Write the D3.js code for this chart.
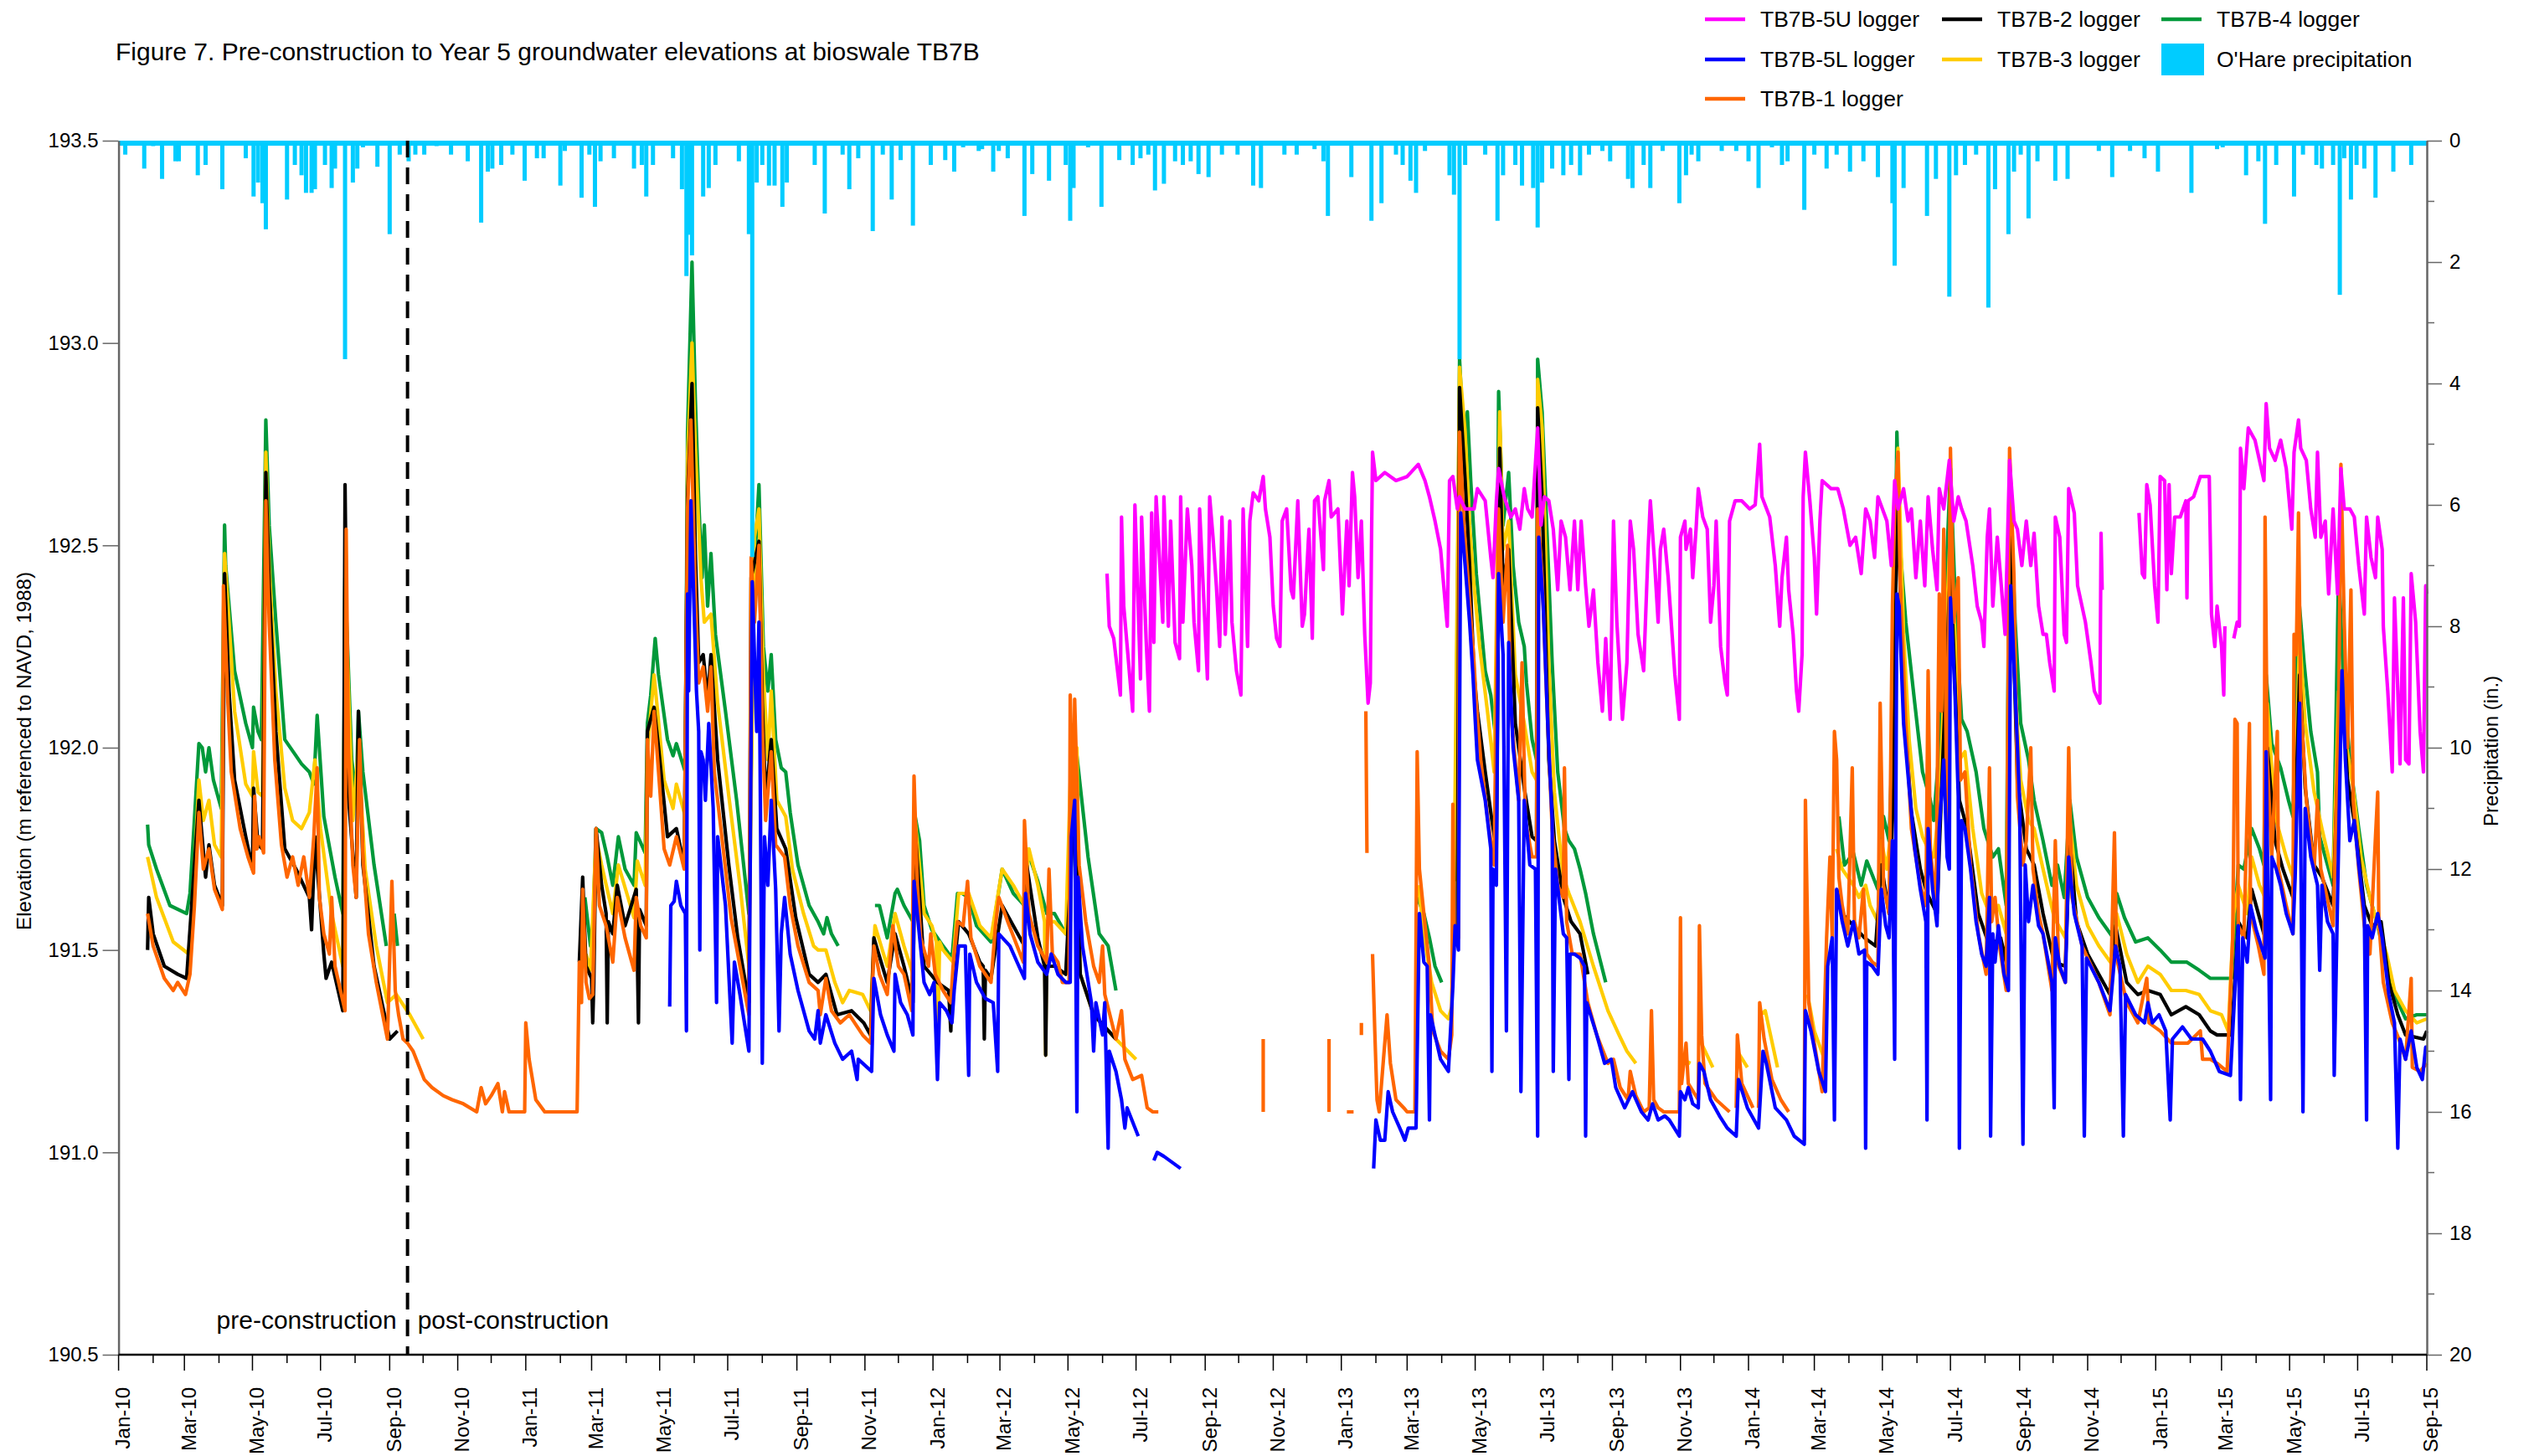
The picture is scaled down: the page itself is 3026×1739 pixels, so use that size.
<!DOCTYPE html>
<html><head><meta charset="utf-8">
<script src="https://cdn.jsdelivr.net/npm/d3@7"></script>
<style>
body{margin:0;background:#fff;}
text{font-family:"Liberation Sans",Arial,Helvetica,sans-serif;fill:#000;}
</style>
</head><body>
<svg id="chart" width="3026" height="1739"></svg>
<script>
// ---------------- DATA ----------------
// Each point: [days after START_DATE, value]; value null marks a gap in the record.
const START_DATE = "2010-01-01";
const END_DATE = "2015-09-01";
const CONSTRUCTION_DATE = "2010-09-17";
const elevTicks = [190.5, 191.0, 191.5, 192.0, 192.5, 193.0, 193.5];
const precipTicks = [0, 2, 4, 6, 8, 10, 12, 14, 16, 18, 20];
const seriesNames = ["TB7B-5U logger", "TB7B-5L logger", "TB7B-1 logger", "TB7B-2 logger", "TB7B-3 logger", "TB7B-4 logger"];
const precipName = "O'Hare precipitation";

const tb7b5U = [[886,192.43],[888,192.30],[892,192.27],[898,192.13],[899,192.57],[901,192.35],[909,192.09],[911,192.60],[916,192.17],[917,192.57],[921,192.27],[924,192.09],[926,192.58],[928,192.26],[930,192.62],[933,192.47],[936,192.31],[937,192.62],[941,192.30],[943,192.56],[947,192.26],[951,192.22],[952,192.62],[954,192.31],[958,192.59],[962,192.45],[964,192.31],[968,192.19],[969,192.59],[976,192.17],[978,192.62],[981,192.52],[984,192.40],[987,192.25],[989,192.57],[992,192.28],[996,192.56],[998,192.31],[1002,192.19],[1006,192.13],[1008,192.59],[1012,192.25],[1014,192.56],[1017,192.63],[1022,192.61],[1026,192.67],[1028,192.59],[1032,192.52],[1035,192.35],[1038,192.27],[1041,192.25],[1043,192.56],[1047,192.59],[1051,192.39],[1053,192.37],[1057,192.61],[1061,192.30],[1063,192.33],[1067,192.54],[1070,192.27],[1072,192.61],[1075,192.62],[1080,192.44],[1081,192.61],[1085,192.66],[1087,192.57],[1093,192.59],[1097,192.33],[1101,192.56],[1103,192.40],[1106,192.68],[1108,192.62],[1111,192.42],[1114,192.56],[1117,192.28],[1120,192.11],[1122,192.16],[1123,192.49],[1124,192.73],[1127,192.66],[1135,192.68],[1145,192.66],[1155,192.67],[1165,192.70],[1171,192.66],[1175,192.62],[1180,192.56],[1185,192.49],[1190,192.33],[1191,192.30],[1193,192.66],[1196,192.67],[1200,192.59],[1202,192.62],[1207,192.59],[1215,192.59],[1218,192.64],[1225,192.61],[1230,192.47],[1232,192.42],[1235,192.61],[1237,192.69],[1242,192.62],[1248,192.57],[1252,192.59],[1256,192.54],[1260,192.64],[1263,192.59],[1267,192.57],[1272,192.79],[1275,192.55],[1278,192.62],[1282,192.61],[1286,192.54],[1290,192.39],[1293,192.56],[1297,192.52],[1301,192.39],[1305,192.56],[1308,192.39],[1311,192.56],[1315,192.40],[1318,192.30],[1322,192.39],[1326,192.21],[1330,192.09],[1333,192.27],[1337,192.07],[1340,192.56],[1343,192.31],[1348,192.07],[1352,192.21],[1355,192.56],[1358,192.49],[1362,192.28],[1367,192.19],[1371,192.49],[1373,192.61],[1377,192.45],[1380,192.31],[1382,192.49],[1385,192.54],[1389,192.42],[1392,192.30],[1395,192.18],[1399,192.07],[1400,192.52],[1404,192.56],[1405,192.49],[1409,192.54],[1411,192.42],[1414,192.54],[1416,192.64],[1420,192.57],[1424,192.54],[1427,192.31],[1430,192.40],[1432,192.56],[1436,192.25],[1440,192.16],[1442,192.13],[1444,192.56],[1449,192.61],[1455,192.61],[1462,192.59],[1467,192.60],[1471,192.75],[1473,192.62],[1480,192.57],[1485,192.45],[1489,192.30],[1491,192.42],[1495,192.52],[1497,192.39],[1501,192.28],[1504,192.14],[1506,192.09],[1509,192.23],[1510,192.62],[1512,192.73],[1516,192.61],[1520,192.47],[1522,192.33],[1525,192.56],[1527,192.66],[1535,192.64],[1541,192.64],[1546,192.59],[1552,192.50],[1557,192.52],[1562,192.43],[1566,192.59],[1570,192.56],[1574,192.47],[1577,192.62],[1581,192.59],[1585,192.56],[1589,192.45],[1592,192.66],[1595,192.59],[1600,192.64],[1604,192.56],[1607,192.59],[1611,192.42],[1615,192.56],[1619,192.40],[1622,192.62],[1626,192.49],[1630,192.39],[1632,192.64],[1636,192.59],[1641,192.71],[1645,192.56],[1649,192.62],[1652,192.59],[1656,192.56],[1662,192.45],[1666,192.35],[1670,192.31],[1672,192.25],[1675,192.52],[1677,192.59],[1680,192.35],[1684,192.52],[1687,192.42],[1691,192.28],[1695,192.71],[1699,192.56],[1702,192.54],[1706,192.45],[1710,192.56],[1714,192.45],[1717,192.53],[1721,192.35],[1725,192.28],[1728,192.28],[1731,192.21],[1735,192.14],[1736,192.57],[1740,192.52],[1744,192.28],[1746,192.26],[1748,192.64],[1753,192.58],[1756,192.40],[1763,192.31],[1768,192.21],[1771,192.14],[1776,192.11],[1777,192.53],[1778,192.39],[1779,null],[1811,192.58],[1814,192.43],[1816,192.42],[1818,192.65],[1821,192.60],[1825,192.40],[1828,192.31],[1830,192.67],[1834,192.66],[1836,192.39],[1838,192.65],[1840,192.43],[1843,192.57],[1848,192.57],[1853,192.61],[1854,192.37],[1855,192.61],[1860,192.62],[1866,192.67],[1874,192.67],[1876,192.33],[1879,192.25],[1881,192.35],[1885,192.25],[1887,192.13],[1888,192.30],[1889,null],[1896,192.27],[1899,192.31],[1901,192.30],[1902,192.74],[1905,192.64],[1909,192.79],[1915,192.76],[1919,192.71],[1923,192.66],[1925,192.85],[1928,192.74],[1933,192.71],[1938,192.76],[1943,192.69],[1948,192.54],[1950,192.73],[1954,192.81],[1956,192.74],[1961,192.71],[1965,192.59],[1969,192.52],[1971,192.73],[1974,192.52],[1978,192.56],[1981,192.38],[1985,192.59],[1989,192.38],[1992,192.69],[1995,192.59],[2000,192.59],[2004,192.57],[2008,192.45],[2013,192.33],[2015,192.57],[2019,192.47],[2023,192.42],[2025,192.57],[2029,192.49],[2030,192.30],[2034,192.14],[2038,191.94],[2040,192.37],[2043,192.14],[2045,191.96],[2048,192.37],[2050,191.97],[2053,191.96],[2055,192.43],[2059,192.31],[2063,192.04],[2066,191.94],[2068,192.40],[2069,192.38]];

const tb7b5L = [[494,191.36],[495,191.61],[498,191.62],[500,191.67],[504,191.61],[508,191.59],[509,191.30],[510,192.38],[511,192.14],[513,192.61],[515,192.42],[518,192.14],[520,192.04],[521,191.50],[522,191.99],[524,191.97],[526,191.87],[529,192.06],[533,191.85],[536,191.37],[537,191.78],[544,191.61],[550,191.27],[552,191.47],[557,191.39],[565,191.25],[568,192.41],[572,192.04],[574,192.31],[575,191.97],[577,191.22],[579,191.78],[582,191.66],[585,191.87],[589,191.65],[592,191.30],[594,191.54],[597,191.63],[602,191.49],[609,191.40],[619,191.30],[624,191.28],[627,191.35],[629,191.27],[634,191.34],[642,191.27],[649,191.23],[657,191.25],[662,191.18],[663,191.23],[675,191.20],[677,191.43],[683,191.34],[689,191.29],[695,191.25],[696,191.44],[701,191.37],[707,191.34],[712,191.29],[713,191.67],[717,191.56],[722,191.42],[727,191.39],[731,191.42],[734,191.18],[736,191.37],[742,191.35],[747,191.32],[749,191.40],[753,191.51],[759,191.51],[762,191.19],[763,191.49],[769,191.42],[777,191.38],[784,191.37],[788,191.20],[789,191.54],[799,191.51],[807,191.46],[812,191.43],[813,191.64],[817,191.54],[824,191.47],[832,191.44],[836,191.49],[842,191.44],[849,191.42],[853,191.42],[854,191.78],[857,191.87],[859,191.10],[860,191.68],[864,191.51],[872,191.37],[874,191.25],[876,191.37],[882,191.29],[884,191.37],[887,191.01],[888,191.25],[894,191.20],[899,191.13],[902,191.06],[904,191.11],[914,191.04],[915,null],[928,190.98],[931,191.00],[937,190.99],[952,190.96],[953,null],[1125,190.96],[1127,191.08],[1131,191.03],[1135,191.03],[1138,191.15],[1142,191.10],[1150,191.05],[1153,191.03],[1156,191.06],[1163,191.06],[1166,191.59],[1170,191.47],[1173,191.46],[1175,191.08],[1176,191.34],[1180,191.29],[1185,191.23],[1192,191.20],[1196,191.41],[1198,191.56],[1201,191.50],[1203,192.58],[1207,192.45],[1211,192.31],[1214,192.18],[1216,192.07],[1218,191.97],[1225,191.87],[1230,191.75],[1231,191.20],[1232,191.70],[1235,191.66],[1237,192.43],[1241,192.23],[1244,191.30],[1246,192.26],[1250,192.00],[1255,191.87],[1257,191.15],[1260,191.87],[1265,191.71],[1270,191.70],[1272,191.04],[1273,192.52],[1277,192.35],[1281,192.06],[1285,191.82],[1286,191.20],[1288,191.70],[1295,191.54],[1298,191.53],[1300,191.18],[1301,191.49],[1305,191.49],[1310,191.48],[1314,191.46],[1315,191.04],[1316,191.37],[1325,191.29],[1332,191.22],[1338,191.23],[1342,191.16],[1350,191.11],[1357,191.15],[1365,191.10],[1371,191.08],[1375,191.12],[1380,191.08],[1386,191.09],[1390,191.08],[1399,191.04],[1400,191.15],[1404,191.13],[1407,191.16],[1411,191.12],[1416,191.11],[1417,191.22],[1421,191.20],[1427,191.13],[1435,191.09],[1442,191.06],[1450,191.04],[1452,191.18],[1460,191.11],[1470,191.06],[1474,191.25],[1477,191.22],[1485,191.11],[1495,191.08],[1502,191.04],[1511,191.02],[1512,191.35],[1517,191.30],[1524,191.20],[1530,191.15],[1532,191.46],[1536,191.53],[1538,191.08],[1540,191.65],[1545,191.57],[1550,191.51],[1555,191.57],[1560,191.49],[1565,191.50],[1566,191.01],[1567,191.47],[1572,191.46],[1577,191.44],[1580,191.65],[1584,191.56],[1587,191.53],[1590,191.77],[1592,191.23],[1594,192.38],[1596,192.35],[1600,192.06],[1605,191.90],[1610,191.75],[1615,191.65],[1620,191.57],[1621,191.08],[1622,191.80],[1626,191.65],[1630,191.56],[1632,191.80],[1636,191.97],[1639,191.73],[1641,191.70],[1642,192.37],[1646,192.14],[1649,191.88],[1650,191.01],[1652,191.82],[1655,191.80],[1660,191.70],[1665,191.57],[1670,191.49],[1674,191.46],[1677,191.63],[1678,191.04],[1680,191.54],[1682,191.47],[1685,191.56],[1690,191.44],[1694,191.40],[1696,192.40],[1700,192.14],[1704,191.87],[1707,191.02],[1709,191.71],[1712,191.57],[1716,191.66],[1721,191.56],[1725,191.54],[1733,191.42],[1735,191.11],[1736,191.53],[1740,191.46],[1745,191.42],[1748,191.73],[1753,191.59],[1760,191.51],[1762,191.04],[1764,191.48],[1775,191.42],[1785,191.35],[1790,191.51],[1794,191.46],[1797,191.04],[1799,191.39],[1808,191.34],[1816,191.32],[1819,191.37],[1823,191.32],[1829,191.34],[1835,191.30],[1839,191.08],[1841,191.28],[1850,191.31],[1858,191.28],[1868,191.28],[1875,191.25],[1883,191.20],[1893,191.19],[1896,191.35],[1900,191.56],[1902,191.13],[1904,191.53],[1908,191.47],[1911,191.61],[1916,191.55],[1924,191.48],[1925,191.99],[1929,191.13],[1930,191.73],[1934,191.70],[1938,191.66],[1943,191.59],[1949,191.54],[1951,191.68],[1955,192.11],[1958,191.10],[1960,191.85],[1965,191.73],[1971,191.66],[1973,191.45],[1975,191.66],[1980,191.57],[1985,191.54],[1986,191.19],[1989,191.63],[1993,192.19],[1996,191.97],[2000,191.77],[2004,191.82],[2008,191.71],[2013,191.59],[2015,191.08],[2016,191.56],[2020,191.53],[2025,191.59],[2029,191.53],[2035,191.39],[2040,191.32],[2043,191.01],[2045,191.28],[2050,191.23],[2055,191.30],[2060,191.21],[2065,191.18],[2068,191.26],[2069,191.26]];

const tb7b1 = [[26,191.59],[31,191.51],[41,191.43],[49,191.40],[53,191.42],[60,191.39],[64,191.44],[68,191.61],[72,191.84],[76,191.70],[81,191.75],[86,191.65],[93,191.60],[94,192.40],[98,192.11],[101,191.94],[109,191.80],[116,191.73],[121,191.69],[122,191.88],[124,191.75],[126,191.78],[130,191.74],[132,192.61],[135,192.31],[140,191.97],[146,191.76],[151,191.68],[156,191.73],[161,191.66],[166,191.73],[171,191.63],[175,191.78],[178,191.95],[180,191.63],[184,191.54],[189,191.49],[191,191.63],[194,191.46],[203,191.35],[204,192.54],[206,192.00],[210,191.71],[213,191.63],[216,192.02],[219,191.73],[224,191.54],[231,191.42],[241,191.28],[245,191.67],[248,191.40],[251,191.34],[255,191.28],[259,191.27],[264,191.25],[274,191.18],[281,191.16],[291,191.14],[299,191.13],[309,191.12],[321,191.10],[325,191.16],[329,191.12],[334,191.14],[340,191.17],[344,191.10],[346,191.15],[350,191.10],[364,191.10],[365,191.32],[368,191.23],[374,191.13],[382,191.10],[411,191.10],[413,191.47],[415,191.37],[416,191.65],[419,191.42],[422,191.38],[425,191.39],[428,191.80],[431,191.61],[437,191.56],[443,191.47],[447,191.63],[454,191.53],[462,191.45],[464,191.63],[468,191.56],[473,191.53],[474,192.02],[477,191.88],[480,192.09],[484,191.94],[489,191.75],[494,191.71],[500,191.78],[507,191.70],[510,192.59],[513,192.81],[517,192.38],[520,192.16],[524,192.20],[528,192.09],[531,192.20],[534,191.94],[542,191.75],[549,191.58],[557,191.46],[565,191.34],[567,192.47],[570,192.31],[574,192.50],[577,192.05],[580,191.82],[585,191.99],[589,191.76],[597,191.73],[602,191.61],[609,191.51],[619,191.42],[627,191.40],[629,191.34],[634,191.43],[639,191.35],[647,191.32],[655,191.34],[667,191.29],[674,191.27],[677,191.51],[682,191.44],[689,191.39],[694,191.56],[699,191.46],[704,191.44],[711,191.35],[713,191.93],[716,191.66],[719,191.53],[726,191.46],[728,191.54],[732,191.44],[739,191.40],[746,191.37],[748,191.46],[752,191.57],[757,191.56],[761,191.67],[764,191.53],[772,191.46],[782,191.42],[786,191.56],[789,191.63],[797,191.57],[804,191.52],[811,191.47],[812,191.82],[816,191.59],[824,191.51],[832,191.47],[834,191.70],[837,191.49],[842,191.47],[846,191.42],[852,191.42],[853,192.13],[856,191.80],[857,192.12],[861,191.71],[867,191.57],[874,191.46],[879,191.42],[882,191.51],[884,191.39],[894,191.28],[899,191.35],[902,191.23],[909,191.18],[917,191.19],[922,191.11],[927,191.10],[932,191.10],[933,null],[1026,191.28],[1026,191.10],[1027,null],[1085,191.28],[1085,191.10],[1086,null],[1101,191.10],[1107,191.10],[1108,null],[1114,191.32],[1114,191.29],[1115,null],[1118,192.09],[1119,191.74],[1120,null],[1124,191.49],[1126,191.30],[1128,191.13],[1130,191.10],[1137,191.34],[1140,191.22],[1145,191.13],[1152,191.11],[1155,191.10],[1162,191.10],[1164,191.99],[1166,191.70],[1170,191.59],[1175,191.46],[1178,191.30],[1185,191.25],[1192,191.23],[1195,191.29],[1196,191.86],[1197,191.56],[1201,191.53],[1202,192.78],[1206,192.55],[1210,192.40],[1215,192.21],[1217,192.11],[1221,191.97],[1227,191.83],[1233,191.71],[1237,192.59],[1241,192.31],[1245,192.50],[1248,192.09],[1255,191.87],[1258,192.21],[1261,191.82],[1267,191.73],[1271,191.73],[1272,192.59],[1276,192.42],[1281,192.06],[1285,191.80],[1290,191.66],[1295,191.63],[1296,191.95],[1298,191.57],[1303,191.49],[1310,191.49],[1317,191.37],[1325,191.29],[1335,191.22],[1340,191.23],[1346,191.16],[1353,191.13],[1355,191.20],[1360,191.14],[1367,191.10],[1372,191.11],[1374,191.35],[1376,191.13],[1380,191.11],[1385,191.10],[1392,191.10],[1399,191.10],[1400,191.58],[1401,191.17],[1405,191.27],[1407,191.17],[1416,191.13],[1417,191.56],[1419,191.29],[1422,191.17],[1432,191.13],[1444,191.10],[1445,null],[1450,191.11],[1451,191.29],[1455,191.17],[1465,191.11],[1466,null],[1470,191.11],[1471,191.37],[1475,191.28],[1482,191.18],[1490,191.13],[1497,191.10],[1498,null],[1511,191.03],[1512,191.87],[1515,191.37],[1520,191.27],[1527,191.15],[1531,191.53],[1534,191.73],[1536,191.53],[1538,192.04],[1540,191.97],[1542,191.68],[1545,191.61],[1550,191.54],[1554,191.95],[1556,191.57],[1560,191.53],[1564,191.65],[1567,191.49],[1572,191.47],[1577,191.46],[1579,192.11],[1582,191.66],[1587,191.59],[1590,192.35],[1592,192.59],[1595,192.73],[1597,192.40],[1602,192.06],[1607,191.80],[1615,191.66],[1620,191.61],[1622,192.19],[1624,191.75],[1629,191.61],[1632,192.38],[1634,192.09],[1636,192.54],[1639,191.77],[1642,192.74],[1645,192.31],[1649,192.42],[1651,191.92],[1655,191.94],[1660,191.71],[1667,191.54],[1674,191.44],[1677,191.95],[1679,191.57],[1682,191.63],[1686,191.51],[1692,191.40],[1695,192.74],[1699,192.42],[1702,191.88],[1707,191.71],[1710,191.77],[1714,192.00],[1716,191.70],[1721,191.59],[1725,191.54],[1733,191.40],[1736,191.77],[1739,191.46],[1745,191.42],[1748,192.00],[1751,191.63],[1760,191.51],[1775,191.42],[1785,191.34],[1789,191.79],[1791,191.48],[1800,191.37],[1810,191.32],[1818,191.43],[1820,191.32],[1830,191.30],[1840,191.27],[1855,191.27],[1866,191.30],[1868,191.23],[1875,191.23],[1881,191.22],[1890,191.20],[1895,191.53],[1897,192.07],[1899,192.06],[1900,191.56],[1905,191.53],[1910,192.06],[1911,191.59],[1918,191.51],[1923,191.44],[1924,192.57],[1926,191.97],[1930,191.73],[1935,192.04],[1936,191.70],[1943,191.61],[1949,191.54],[1950,192.28],[1952,192.23],[1954,192.58],[1956,192.11],[1961,191.87],[1968,191.70],[1971,191.87],[1974,191.70],[1978,191.65],[1985,191.56],[1990,192.07],[1992,192.70],[1995,192.31],[1998,192.00],[2001,192.39],[2003,191.87],[2008,191.70],[2013,191.56],[2018,191.49],[2023,191.78],[2025,191.89],[2026,191.57],[2030,191.42],[2038,191.32],[2044,191.28],[2050,191.23],[2055,191.43],[2056,191.21],[2063,191.20],[2069,191.22]];

const tb7b2 = [[26,191.50],[27,191.63],[31,191.54],[41,191.46],[53,191.44],[61,191.43],[66,191.63],[72,191.87],[78,191.68],[81,191.76],[86,191.66],[93,191.61],[95,192.43],[99,192.14],[104,191.92],[114,191.78],[120,191.70],[121,191.90],[125,191.76],[129,191.75],[132,192.68],[135,192.40],[141,192.04],[149,191.75],[159,191.70],[171,191.63],[173,191.55],[176,191.78],[184,191.49],[186,191.43],[191,191.47],[201,191.35],[203,192.65],[206,191.88],[213,191.63],[215,192.09],[219,191.71],[229,191.46],[243,191.28],[250,191.30],[251,null],[413,191.47],[416,191.68],[419,191.46],[424,191.43],[425,191.32],[426,191.42],[428,191.80],[433,191.66],[437,191.59],[438,191.32],[439,191.57],[443,191.54],[447,191.66],[454,191.56],[464,191.65],[466,191.32],[467,191.60],[473,191.56],[474,192.04],[480,192.10],[484,192.00],[492,191.78],[500,191.80],[507,191.71],[510,192.62],[514,192.90],[517,192.48],[520,192.21],[524,192.23],[528,192.12],[531,192.23],[537,191.97],[547,191.71],[555,191.53],[565,191.37],[567,192.42],[574,192.51],[577,192.11],[580,191.87],[585,192.02],[590,191.80],[598,191.75],[607,191.58],[619,191.44],[627,191.42],[634,191.44],[644,191.34],[657,191.35],[668,191.32],[674,191.29],[677,191.53],[689,191.42],[696,191.54],[704,191.46],[712,191.37],[714,191.80],[722,191.46],[734,191.42],[744,191.40],[746,191.30],[747,191.40],[753,191.57],[762,191.54],[772,191.47],[775,191.46],[776,191.28],[777,191.45],[782,191.43],[792,191.61],[802,191.56],[812,191.51],[814,191.71],[824,191.53],[830,191.46],[831,191.24],[832,191.46],[839,191.46],[849,191.44],[857,191.89],[862,191.44],[874,191.34],[894,191.28],[895,null],[1200,191.53],[1202,192.89],[1207,192.66],[1211,192.45],[1215,192.18],[1218,192.09],[1225,191.94],[1231,191.82],[1235,191.75],[1238,192.74],[1241,192.40],[1246,192.49],[1252,192.06],[1260,191.90],[1267,191.78],[1271,191.77],[1272,192.84],[1276,192.62],[1282,191.97],[1287,191.77],[1295,191.63],[1302,191.57],[1310,191.54],[1317,191.44],[1318,null],[1540,191.65],[1545,191.59],[1555,191.56],[1565,191.53],[1575,191.51],[1580,191.71],[1587,191.59],[1591,191.90],[1594,192.66],[1600,192.11],[1607,191.84],[1615,191.70],[1621,191.64],[1630,191.59],[1632,191.75],[1642,192.45],[1650,191.87],[1657,191.80],[1667,191.59],[1677,191.51],[1687,191.53],[1692,191.47],[1696,192.52],[1702,191.92],[1710,191.75],[1717,191.71],[1725,191.59],[1735,191.47],[1745,191.46],[1749,191.77],[1755,191.57],[1765,191.49],[1775,191.44],[1785,191.39],[1790,191.56],[1800,191.42],[1810,191.39],[1819,191.40],[1830,191.39],[1840,191.34],[1853,191.36],[1865,191.34],[1875,191.30],[1881,191.29],[1894,191.29],[1900,191.57],[1908,191.53],[1912,191.65],[1923,191.54],[1926,192.00],[1933,191.77],[1940,191.70],[1949,191.63],[1955,192.18],[1960,191.90],[1968,191.71],[1975,191.68],[1985,191.61],[1992,192.18],[1998,191.92],[2005,191.80],[2013,191.61],[2020,191.56],[2028,191.57],[2035,191.42],[2043,191.34],[2050,191.29],[2066,191.28],[2069,191.30]];

const tb7b3 = [[26,191.73],[34,191.63],[49,191.52],[63,191.49],[68,191.70],[72,191.92],[76,191.82],[81,191.87],[86,191.76],[92,191.73],[95,192.48],[99,192.31],[104,192.09],[114,191.91],[120,191.88],[121,191.99],[125,191.89],[129,191.88],[132,192.73],[135,192.45],[141,192.14],[149,191.90],[156,191.82],[164,191.80],[171,191.84],[176,191.97],[181,191.80],[191,191.59],[201,191.46],[203,192.40],[210,191.82],[215,192.00],[221,191.70],[231,191.51],[241,191.37],[249,191.39],[261,191.34],[273,191.28],[274,null],[419,191.49],[423,191.45],[428,191.78],[433,191.71],[443,191.59],[448,191.71],[462,191.58],[465,191.72],[472,191.66],[474,191.99],[480,192.18],[489,191.92],[497,191.85],[500,191.91],[508,191.83],[510,192.71],[514,193.00],[517,192.74],[522,192.42],[525,192.31],[531,192.33],[537,192.11],[547,191.88],[557,191.66],[565,191.46],[570,192.52],[574,192.59],[578,192.18],[582,191.97],[585,192.14],[590,191.87],[598,191.83],[604,191.70],[614,191.59],[623,191.51],[627,191.50],[634,191.50],[642,191.42],[649,191.37],[655,191.40],[667,191.39],[674,191.35],[678,191.56],[689,191.46],[696,191.59],[704,191.51],[712,191.44],[714,191.82],[722,191.59],[729,191.56],[733,191.52],[734,191.24],[736,191.52],[739,191.50],[748,191.47],[753,191.64],[762,191.64],[772,191.56],[782,191.53],[792,191.70],[802,191.66],[812,191.61],[816,191.75],[824,191.66],[830,191.57],[831,191.24],[832,191.57],[839,191.57],[849,191.54],[854,192.00],[859,192.00],[862,191.44],[874,191.34],[894,191.28],[912,191.23],[913,null],[1165,191.66],[1171,191.52],[1177,191.42],[1185,191.35],[1192,191.33],[1195,191.36],[1197,191.63],[1202,192.94],[1207,192.78],[1211,192.55],[1215,192.40],[1220,192.25],[1227,192.09],[1233,191.94],[1238,192.83],[1241,192.49],[1246,192.56],[1252,192.18],[1260,192.06],[1267,191.94],[1271,191.92],[1272,192.91],[1276,192.79],[1282,192.21],[1287,191.89],[1295,191.68],[1300,191.64],[1310,191.57],[1322,191.46],[1335,191.35],[1345,191.29],[1352,191.25],[1360,191.22],[1361,null],[1401,191.23],[1409,191.22],[1410,null],[1417,191.28],[1429,191.21],[1430,null],[1451,191.25],[1460,191.21],[1461,null],[1472,191.34],[1476,191.35],[1487,191.21],[1488,null],[1514,191.39],[1520,191.30],[1529,191.23],[1530,null],[1540,191.75],[1545,191.70],[1555,191.66],[1560,191.63],[1566,191.66],[1570,191.61],[1577,191.57],[1580,191.77],[1585,191.70],[1590,191.83],[1592,192.55],[1595,192.74],[1600,192.28],[1605,192.02],[1611,191.85],[1617,191.78],[1622,191.75],[1627,191.73],[1632,191.85],[1642,192.55],[1646,192.28],[1650,191.97],[1655,191.99],[1662,191.80],[1670,191.64],[1677,191.59],[1685,191.61],[1692,191.54],[1695,192.55],[1700,192.14],[1705,191.92],[1712,191.82],[1717,191.80],[1725,191.70],[1735,191.58],[1745,191.53],[1749,191.82],[1755,191.66],[1765,191.56],[1775,191.51],[1788,191.46],[1791,191.59],[1800,191.49],[1810,191.42],[1819,191.46],[1830,191.44],[1840,191.40],[1853,191.40],[1865,191.39],[1875,191.35],[1885,191.34],[1891,191.30],[1896,191.59],[1900,191.66],[1908,191.59],[1912,191.73],[1919,191.66],[1924,191.63],[1926,192.11],[1933,191.83],[1943,191.73],[1949,191.68],[1955,192.28],[1960,192.06],[1968,191.89],[1975,191.80],[1985,191.68],[1990,192.14],[1995,192.04],[2003,191.90],[2010,191.73],[2018,191.63],[2025,191.56],[2033,191.49],[2040,191.40],[2050,191.35],[2060,191.32],[2069,191.33]];

const tb7b4 = [[26,191.81],[27,191.76],[34,191.70],[46,191.61],[61,191.59],[64,191.64],[69,191.87],[72,192.01],[75,192.00],[78,191.94],[81,192.00],[85,191.92],[92,191.85],[95,192.55],[96,192.45],[104,192.19],[114,192.06],[120,192.00],[121,192.10],[125,192.04],[128,192.02],[129,192.22],[132,192.81],[135,192.55],[141,192.31],[149,192.02],[159,191.98],[164,191.96],[171,191.94],[175,191.91],[178,192.08],[184,191.83],[194,191.68],[201,191.59],[203,192.42],[209,191.97],[213,191.88],[215,192.09],[219,191.94],[229,191.71],[240,191.51],[241,null],[247,191.59],[250,191.51],[251,null],[418,191.63],[423,191.51],[425,191.54],[428,191.80],[433,191.79],[438,191.73],[443,191.66],[448,191.78],[454,191.70],[462,191.66],[464,191.79],[472,191.74],[474,192.06],[477,192.13],[481,192.27],[484,192.18],[492,192.02],[497,191.98],[500,192.01],[508,191.94],[510,192.78],[514,193.20],[517,192.86],[520,192.61],[523,192.42],[525,192.55],[528,192.35],[531,192.48],[535,192.28],[544,192.09],[554,191.87],[565,191.59],[570,192.45],[574,192.65],[578,192.25],[582,192.14],[585,192.23],[589,192.02],[594,191.95],[598,191.94],[602,191.84],[609,191.71],[619,191.61],[627,191.57],[632,191.54],[635,191.58],[639,191.54],[645,191.51],[646,null],[678,191.61],[682,191.61],[689,191.53],[696,191.64],[698,191.65],[704,191.61],[712,191.57],[714,191.83],[718,191.77],[722,191.61],[729,191.55],[739,191.51],[747,191.48],[752,191.64],[756,191.64],[762,191.63],[769,191.56],[782,191.52],[792,191.70],[802,191.64],[812,191.61],[814,191.75],[824,191.67],[832,191.59],[839,191.59],[849,191.54],[853,191.57],[856,192.02],[859,191.98],[869,191.73],[879,191.54],[887,191.51],[894,191.40],[895,null],[1164,191.63],[1170,191.59],[1175,191.53],[1180,191.46],[1186,191.42],[1187,null],[1198,191.67],[1202,192.96],[1206,192.74],[1209,192.83],[1212,192.66],[1217,192.43],[1225,192.19],[1230,192.13],[1235,192.01],[1237,192.88],[1241,192.55],[1246,192.68],[1250,192.45],[1255,192.31],[1260,192.25],[1262,192.16],[1267,192.02],[1271,191.97],[1272,192.96],[1276,192.83],[1281,192.49],[1285,192.21],[1290,191.94],[1296,191.80],[1300,191.77],[1305,191.75],[1310,191.70],[1315,191.64],[1322,191.54],[1333,191.42],[1334,null],[1542,191.83],[1547,191.71],[1555,191.74],[1562,191.66],[1567,191.72],[1577,191.65],[1582,191.83],[1587,191.77],[1591,192.10],[1594,192.78],[1597,192.49],[1602,192.31],[1610,192.11],[1617,191.94],[1624,191.87],[1627,191.82],[1632,192.00],[1642,192.69],[1647,192.31],[1652,192.07],[1657,192.04],[1665,191.94],[1672,191.80],[1680,191.73],[1685,191.75],[1692,191.61],[1695,192.66],[1700,192.31],[1705,192.06],[1712,191.97],[1717,191.87],[1725,191.77],[1733,191.66],[1738,191.71],[1744,191.63],[1749,191.87],[1755,191.73],[1765,191.63],[1775,191.58],[1788,191.53],[1791,191.64],[1798,191.58],[1808,191.52],[1819,191.53],[1830,191.50],[1840,191.47],[1854,191.47],[1865,191.45],[1875,191.43],[1894,191.43],[1900,191.71],[1905,191.70],[1912,191.80],[1919,191.75],[1923,191.71],[1925,192.18],[1930,192.01],[1938,191.95],[1945,191.87],[1949,191.83],[1954,192.38],[1959,192.21],[1965,192.04],[1971,191.94],[1973,191.78],[1985,191.66],[1990,192.45],[1994,192.18],[2000,191.97],[2008,191.80],[2015,191.66],[2025,191.56],[2033,191.46],[2040,191.39],[2050,191.33],[2060,191.34],[2069,191.34]];

// Daily precipitation (inches) at O'Hare: [days after START_DATE, inches]
const precipitation = [[6,0.23],[23,0.46],[31,0.09],[39,0.63],[51,0.34],[54,0.34],[71,0.57],[78,0.40],[93,0.80],[114,0.29],[121,0.92],[125,0.69],[129,1.03],[132,1.46],[151,0.97],[158,0.40],[164,0.57],[168,0.86],[173,0.86],[176,0.80],[185,0.40],[191,0.78],[194,0.46],[203,3.60],[210,0.69],[214,0.46],[219,0.11],[232,0.43],[243,1.54],[252,0.23],[260,0.34],[266,0.23],[274,0.23],[285,0.09],[298,0.23],[313,0.34],[325,1.35],[331,0.51],[335,0.46],[343,0.40],[353,0.23],[364,0.66],[375,0.29],[381,0.29],[396,0.74],[400,0.17],[415,0.94],[422,0.23],[427,1.09],[432,0.34],[444,0.29],[462,0.46],[469,0.40],[473,0.92],[479,0.40],[497,0.29],[505,0.80],[509,2.23],[511,1.55],[514,1.89],[524,0.92],[529,0.78],[535,0.40],[556,0.34],[565,1.54],[568,6.86],[572,0.69],[577,0.40],[583,0.74],[588,0.74],[595,1.09],[599,0.69],[624,0.40],[633,1.20],[649,0.23],[655,0.80],[663,0.29],[676,1.49],[685,0.23],[693,0.97],[701,0.32],[712,1.40],[728,0.40],[741,0.32],[749,0.51],[757,0.11],[771,0.17],[774,0.14],[784,0.51],[789,0.17],[797,0.29],[812,1.24],[819,0.55],[834,0.66],[849,0.40],[853,1.32],[856,0.78],[869,0.11],[881,1.09],[897,0.32],[909,0.40],[916,0.29],[923,0.23],[929,0.82],[937,0.71],[947,0.34],[954,0.40],[961,0.34],[968,0.55],[977,0.60],[989,0.23],[1003,0.23],[1017,0.74],[1024,0.78],[1045,0.23],[1056,0.23],[1072,0.14],[1080,0.34],[1084,1.24],[1105,0.60],[1123,1.32],[1132,1.03],[1145,0.23],[1151,0.40],[1158,0.66],[1163,0.86],[1171,0.17],[1193,0.57],[1197,0.89],[1202,3.60],[1207,0.40],[1225,0.23],[1236,1.32],[1241,0.57],[1252,0.40],[1258,0.74],[1268,0.78],[1272,1.43],[1276,0.69],[1285,0.46],[1295,0.57],[1302,0.40],[1310,0.57],[1318,0.23],[1330,0.17],[1337,0.34],[1353,0.63],[1357,0.78],[1367,0.40],[1373,0.78],[1384,0.17],[1399,1.03],[1405,0.57],[1410,0.23],[1416,0.34],[1437,0.17],[1450,0.17],[1461,0.34],[1470,0.78],[1482,0.11],[1491,0.40],[1496,0.34],[1511,1.14],[1520,0.23],[1531,0.46],[1540,0.23],[1552,0.51],[1564,0.34],[1577,0.60],[1590,1.03],[1592,2.06],[1600,0.78],[1621,1.24],[1629,0.63],[1641,2.57],[1647,0.57],[1655,0.40],[1665,0.23],[1676,2.75],[1682,0.80],[1694,1.54],[1699,0.51],[1705,0.23],[1712,1.28],[1720,0.34],[1736,0.66],[1747,0.63],[1775,0.17],[1787,0.60],[1803,0.17],[1816,0.29],[1828,0.51],[1858,0.86],[1881,0.14],[1886,0.11],[1907,0.57],[1918,0.34],[1924,1.37],[1934,0.40],[1950,0.92],[1958,0.23],[1970,0.40],[1975,0.46],[1985,0.40],[1991,2.54],[1995,0.29],[2001,0.97],[2006,0.40],[2013,0.46],[2023,0.94],[2039,0.51],[2055,0.40]];

// ---------------- CHART ----------------
const COLORS = {"TB7B-5U logger":"#ff00ff","TB7B-5L logger":"#0000ff","TB7B-1 logger":"#ff6600","TB7B-2 logger":"#000000","TB7B-3 logger":"#ffcc00","TB7B-4 logger":"#00993a", precip:"#00ccff"};
const seriesData = {"TB7B-5U logger":tb7b5U,"TB7B-5L logger":tb7b5L,"TB7B-1 logger":tb7b1,"TB7B-2 logger":tb7b2,"TB7B-3 logger":tb7b3,"TB7B-4 logger":tb7b4};

const svg = d3.select("#chart");
const L = 141.6, R = 2898, T = 168, B = 1618;
const parse = d3.timeParse("%Y-%m-%d");
const start = parse(START_DATE), end = parse(END_DATE);
const toDate = d => d3.timeHour.offset(start, d * 24);

const x = d3.scaleTime().domain([start, end]).range([L, R]);
const y = d3.scaleLinear().domain([190.5, 193.5]).range([B, T]);
const yp = d3.scaleLinear().domain([0, 20]).range([T, B]);

// Title
svg.append("text").attr("x", 138).attr("y", 72).attr("font-size", 30)
  .text("Figure 7. Pre-construction to Year 5 groundwater elevations at bioswale TB7B");

// Lines (draw order: 4, 3, 2, 1, 5L, 5U)
const line = d3.line().defined(d => d[1] !== null).x(d => x(toDate(d[0]))).y(d => y(d[1]));
const drawOrder = ["TB7B-4 logger","TB7B-3 logger","TB7B-2 logger","TB7B-1 logger","TB7B-5L logger","TB7B-5U logger"];
const gLines = svg.append("g");
drawOrder.forEach(name => {
  gLines.append("path").datum(seriesData[name]).attr("d", line)
    .attr("fill", "none").attr("stroke", COLORS[name]).attr("stroke-width", 4.2)
    .attr("stroke-linejoin", "round").attr("stroke-linecap", "butt");
});

// Precipitation bars (hanging from the top, right axis)
const gP = svg.append("g");
gP.append("line").attr("x1", L).attr("x2", R).attr("y1", yp(0) + 3).attr("y2", yp(0) + 3)
  .attr("stroke", COLORS.precip).attr("stroke-width", 6);
gP.selectAll("rect").data(precipitation).join("rect")
  .attr("x", d => x(toDate(d[0])) - 2.5).attr("width", 5)
  .attr("y", yp(0)).attr("height", d => yp(d[1]) - yp(0))
  .attr("fill", COLORS.precip);

// Construction marker
const xc = x(parse(CONSTRUCTION_DATE));
svg.append("line").attr("x1", xc).attr("x2", xc).attr("y1", T).attr("y2", B)
  .attr("stroke", "#000").attr("stroke-width", 4).attr("stroke-dasharray", "20,12");
svg.append("text").attr("x", xc - 13).attr("y", 1587).attr("font-size", 30).attr("text-anchor", "end").text("pre-construction");
svg.append("text").attr("x", xc + 12).attr("y", 1587).attr("font-size", 30).text("post-construction");

// Left axis
const gl = svg.append("g").attr("transform", `translate(${L},0)`)
  .call(d3.axisLeft(y).tickValues(elevTicks).tickFormat(d3.format(".1f")).tickSize(19).tickSizeOuter(0).tickPadding(5));
gl.select(".domain").attr("stroke", "#666").attr("stroke-width", 2.5);
gl.selectAll(".tick line").attr("stroke", "#666").attr("stroke-width", 1.5);
gl.selectAll("text").attr("font-size", 24).attr("font-family", "Liberation Sans, Arial, sans-serif").attr("fill", "#000");

// Right axis
const gr = svg.append("g").attr("transform", `translate(${R},0)`)
  .call(d3.axisRight(yp).tickValues(precipTicks).tickFormat(d3.format("d")).tickSize(18).tickSizeOuter(0).tickPadding(9));
gr.select(".domain").attr("stroke", "#666").attr("stroke-width", 2.5);
gr.selectAll(".tick line").attr("stroke", "#666").attr("stroke-width", 1.5);
gr.selectAll("text").attr("font-size", 24).attr("font-family", "Liberation Sans, Arial, sans-serif").attr("fill", "#000");
const minorP = d3.range(1, 20, 2);
svg.append("g").attr("transform", `translate(${R},0)`).selectAll("line").data(minorP).join("line")
  .attr("x1", 0).attr("x2", 9).attr("y1", d => yp(d)).attr("y2", d => yp(d))
  .attr("stroke", "#666").attr("stroke-width", 1.5);

// Bottom axis
const months = d3.timeMonth.range(start, d3.timeMonth.offset(end, 1));
const gb = svg.append("g");
gb.append("line").attr("x1", L).attr("x2", R).attr("y1", B).attr("y2", B).attr("stroke", "#000").attr("stroke-width", 2.5);
gb.selectAll("line.tk").data(months).join("line").attr("class", "tk")
  .attr("x1", d => x(d)).attr("x2", d => x(d)).attr("y1", B)
  .attr("y2", d => B + (d.getMonth() % 2 === 0 ? 19 : 10))
  .attr("stroke", "#000").attr("stroke-width", 1.5);
const fmt = d3.timeFormat("%b-%y");
gb.selectAll("text").data(months.filter(d => d.getMonth() % 2 === 0)).join("text")
  .attr("transform", d => `translate(${x(d) + 5},1657) rotate(-90)`)
  .attr("text-anchor", "end").attr("dy", "0.35em").attr("font-size", 24).text(d => fmt(d));

// Axis titles
svg.append("text").attr("transform", "translate(37,897) rotate(-90)").attr("text-anchor", "middle")
  .attr("font-size", 24).text("Elevation (m referenced to NAVD, 1988)");
svg.append("text").attr("transform", "translate(2983,897) rotate(-90)").attr("text-anchor", "middle")
  .attr("font-size", 24).text("Precipitation (in.)");

// Legend
const legendItems = [
  {name: seriesNames[0], col: 0, row: 0},
  {name: seriesNames[1], col: 0, row: 1},
  {name: seriesNames[2], col: 0, row: 2},
  {name: seriesNames[3], col: 1, row: 0},
  {name: seriesNames[4], col: 1, row: 1},
  {name: seriesNames[5], col: 2, row: 0},
  {name: precipName, col: 2, row: 1, swatch: true}
];
const colX = [2036, 2319, 2581], rowY = [23, 71, 118];
const gLeg = svg.append("g");
legendItems.forEach(it => {
  const lx = colX[it.col], ly = rowY[it.row];
  if (it.swatch) {
    gLeg.append("rect").attr("x", lx).attr("y", ly - 19).attr("width", 51).attr("height", 38).attr("fill", COLORS.precip);
  } else {
    gLeg.append("line").attr("x1", lx).attr("x2", lx + 48).attr("y1", ly).attr("y2", ly)
      .attr("stroke", COLORS[it.name]).attr("stroke-width", 4.5);
  }
  gLeg.append("text").attr("x", lx + 66).attr("y", ly).attr("dy", "0.35em").attr("font-size", 26.5).text(it.name);
});
</script>
</body></html>
